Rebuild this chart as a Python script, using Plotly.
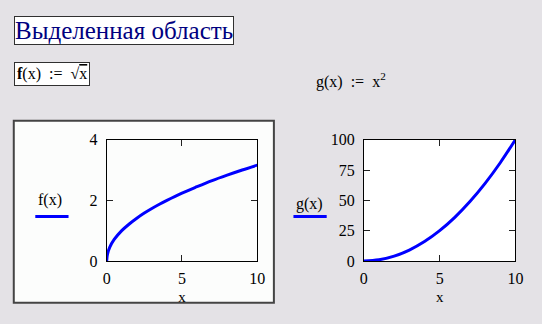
import plotly.graph_objects as go

W, H = 542, 324

# data
x_f = [0, 0.05, 0.2, 0.5, 1, 1.5, 2, 2.5, 3, 3.5, 4, 5, 6, 7, 8, 9, 10]
f_vals = [0, 0.22, 0.45, 0.71, 1.0, 1.22, 1.41, 1.58, 1.73, 1.87, 2.0, 2.24, 2.45, 2.65, 2.83, 3.0, 3.16]
x_g = [0, 1, 2, 3, 4, 5, 6, 7, 8, 9, 10]
g_vals = [0, 1, 4, 9, 16, 25, 36, 49, 64, 81, 100]

x_ticks = [0, 5, 10]
f_ticks = [0, 2, 4]
g_ticks = [0, 25, 50, 75, 100]

title_text = "Выделенная область"
f_def = "<b>f</b>(x)  :=  √<span style='text-decoration:overline'>x</span>"
g_def = "g(x)  :=  x<sup>2</sup>"

BG = "#e4e2e6"
BLUE = "#0000ff"
SERIF = "Liberation Serif, Times New Roman, serif"

def px(x):
    return x / W

def py(y):
    return 1 - y / H

fig = go.Figure()
fig.add_trace(go.Scatter(x=x_f, y=f_vals, mode="lines", line=dict(color=BLUE, width=3, shape="spline"),
                         xaxis="x", yaxis="y", showlegend=False))
fig.add_trace(go.Scatter(x=x_g, y=g_vals, mode="lines", line=dict(color=BLUE, width=3, shape="spline"),
                         xaxis="x2", yaxis="y2", showlegend=False))

axis_common = dict(showline=True, linecolor="black", linewidth=1, mirror="ticks",
                   ticks="inside", ticklen=6, tickcolor="#222", showgrid=False, zeroline=False,
                   tickfont=dict(family=SERIF, size=16, color="black"))
xtitle = dict(text="x", font=dict(family=SERIF, size=15, color="black"), standoff=5)

fig.update_layout(
    width=W, height=H, margin=dict(l=0, r=0, t=0, b=0),
    paper_bgcolor=BG, plot_bgcolor="white",
    xaxis=dict(domain=[px(105), px(259)], range=[0, 10], tickvals=x_ticks, anchor="y",
               title=xtitle, ticklabelstandoff=3, **axis_common),
    yaxis=dict(domain=[py(267), py(139)], range=[0, 4], tickvals=f_ticks, anchor="x",
               ticklabelstandoff=5, **axis_common),
    xaxis2=dict(domain=[px(368), px(523)], range=[0, 10], tickvals=x_ticks, anchor="y2",
                title=xtitle, ticklabelstandoff=3, **axis_common),
    yaxis2=dict(domain=[py(267), py(139)], range=[0, 100], tickvals=g_ticks, anchor="x2",
                ticklabelstandoff=5, **axis_common),
)

shapes = [
    # selection box around left plot
    dict(type="rect", xref="paper", yref="paper", x0=px(10), x1=px(276), y0=py(311), y1=py(119),
         fillcolor="#fcfdfc", line=dict(color="#444444", width=2), layer="below"),
    # legend lines
    dict(type="line", xref="paper", yref="paper", x0=px(32), x1=px(66), y0=py(220), y1=py(220),
         line=dict(color=BLUE, width=3)),
    dict(type="line", xref="paper", yref="paper", x0=px(296), x1=px(330), y0=py(220), y1=py(220),
         line=dict(color=BLUE, width=3)),
]
fig.update_layout(shapes=shapes)

annotations = [
    dict(text=title_text, xref="paper", yref="paper", x=px(10), y=py(24), xanchor="left", yanchor="middle",
         showarrow=False, font=dict(family=SERIF, size=25, color="#000080"), bgcolor="white",
         bordercolor="#303030", borderwidth=1, borderpad=0),
    dict(text=f_def, xref="paper", yref="paper", x=px(10), y=py(70), xanchor="left", yanchor="middle",
         showarrow=False, font=dict(family=SERIF, size=16, color="black"), bgcolor="white",
         bordercolor="#303030", borderwidth=1, borderpad=2),
    dict(text=g_def, xref="paper", yref="paper", x=px(355), y=py(77), xanchor="center", yanchor="middle",
         showarrow=False, font=dict(family=SERIF, size=16, color="black")),
    dict(text="f(x)", xref="paper", yref="paper", x=px(47), y=py(203), xanchor="center", yanchor="middle",
         showarrow=False, font=dict(family=SERIF, size=16, color="black")),
    dict(text="g(x)", xref="paper", yref="paper", x=px(312), y=py(207), xanchor="center", yanchor="middle",
         showarrow=False, font=dict(family=SERIF, size=16, color="black")),
]
fig.update_layout(annotations=annotations)

fig.write_html("out.html")
